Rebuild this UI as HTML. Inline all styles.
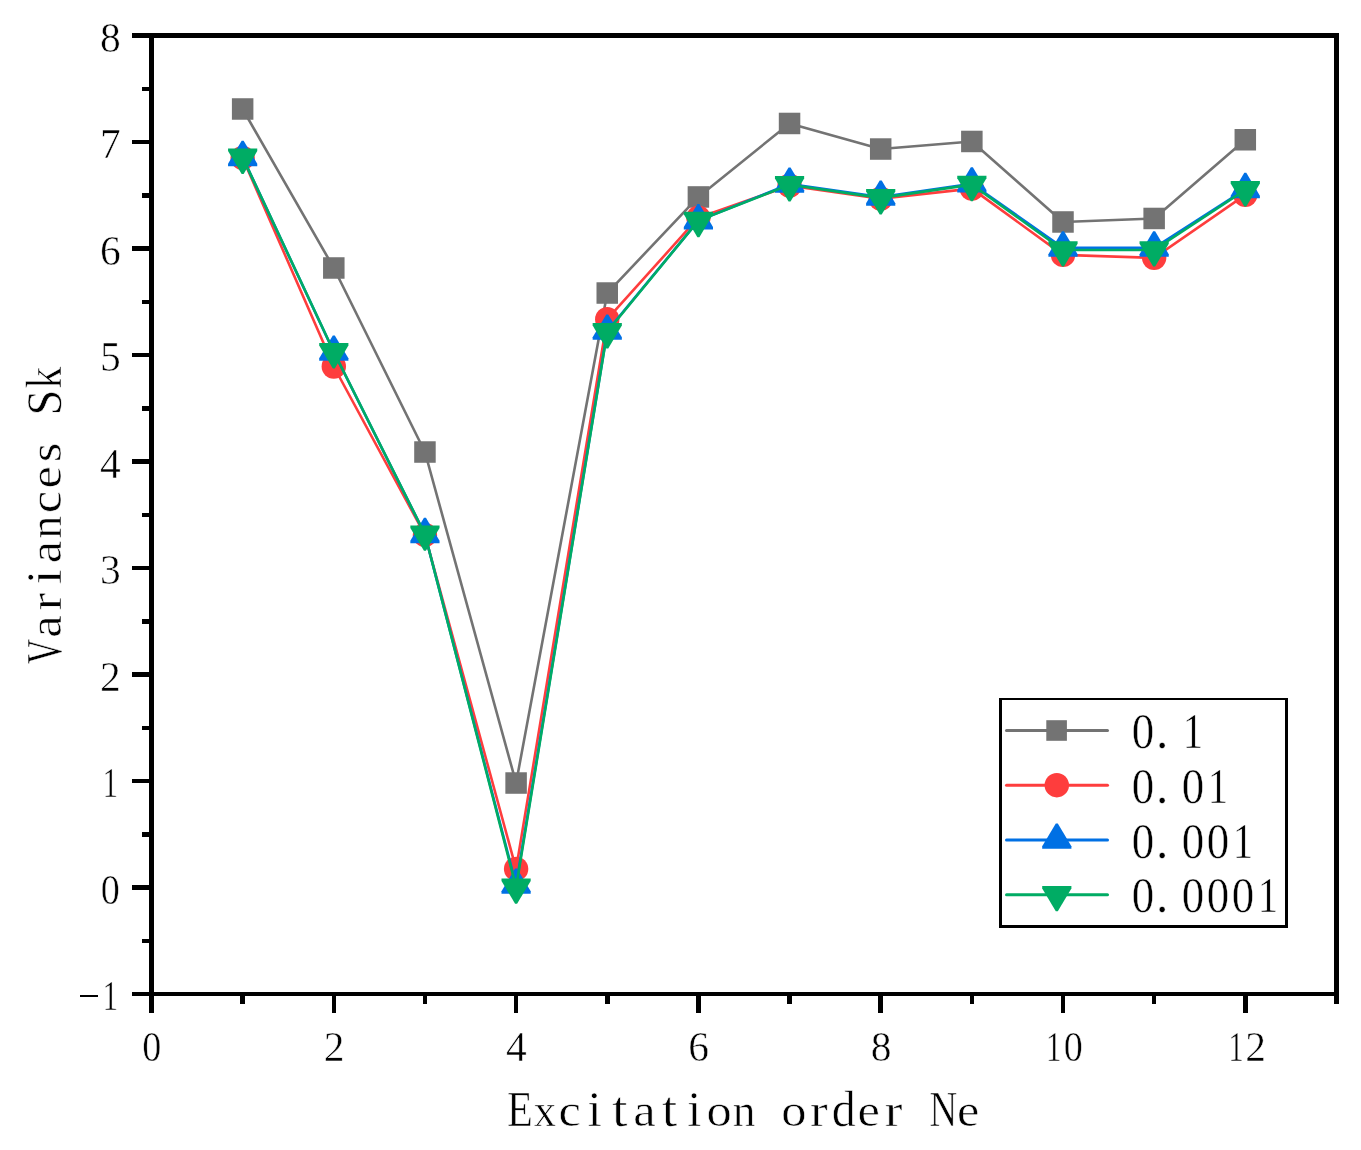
<!DOCTYPE html><html><head><meta charset="utf-8"><style>html,body{margin:0;padding:0;background:#fff;overflow:hidden;}svg{display:block;will-change:transform;}text{font-family:"Liberation Serif",serif;fill:#000;}.ttl text{stroke:#fff;stroke-width:0.6px;}.tl text{stroke:#fff;stroke-width:0.5px;}</style></head><body>
<svg width="1361" height="1150" viewBox="0 0 1361 1150">
<rect width="1361" height="1150" fill="#fff"/>
<polyline points="242.65,108.99 333.80,267.99 424.95,452.02 516.10,783.02 607.25,293.02 698.40,196.95 789.55,123.47 880.70,149.03 971.85,141.47 1063.00,221.98 1154.15,218.47 1245.30,139.76" fill="none" stroke="#737373" stroke-width="2.6" stroke-linejoin="round"/>
<rect x="231.90" y="98.24" width="21.5" height="21.5" fill="#737373"/>
<rect x="323.05" y="257.24" width="21.5" height="21.5" fill="#737373"/>
<rect x="414.20" y="441.27" width="21.5" height="21.5" fill="#737373"/>
<rect x="505.35" y="772.27" width="21.5" height="21.5" fill="#737373"/>
<rect x="596.50" y="282.27" width="21.5" height="21.5" fill="#737373"/>
<rect x="687.65" y="186.20" width="21.5" height="21.5" fill="#737373"/>
<rect x="778.80" y="112.72" width="21.5" height="21.5" fill="#737373"/>
<rect x="869.95" y="138.28" width="21.5" height="21.5" fill="#737373"/>
<rect x="961.10" y="130.72" width="21.5" height="21.5" fill="#737373"/>
<rect x="1052.25" y="211.23" width="21.5" height="21.5" fill="#737373"/>
<rect x="1143.40" y="207.72" width="21.5" height="21.5" fill="#737373"/>
<rect x="1234.55" y="129.01" width="21.5" height="21.5" fill="#737373"/>
<polyline points="242.65,157.98 333.80,366.50 424.95,534.98 516.10,868.97 607.25,319.22 698.40,217.72 789.55,185.66 880.70,198.66 971.85,188.65 1063.00,254.89 1154.15,257.87 1245.30,194.82" fill="none" stroke="#FE3D3D" stroke-width="2.6" stroke-linejoin="round"/>
<circle cx="242.65" cy="157.98" r="12.2" fill="#FE3D3D"/>
<circle cx="333.80" cy="366.50" r="12.2" fill="#FE3D3D"/>
<circle cx="424.95" cy="534.98" r="12.2" fill="#FE3D3D"/>
<circle cx="516.10" cy="868.97" r="12.2" fill="#FE3D3D"/>
<circle cx="607.25" cy="319.22" r="12.2" fill="#FE3D3D"/>
<circle cx="698.40" cy="217.72" r="12.2" fill="#FE3D3D"/>
<circle cx="789.55" cy="185.66" r="12.2" fill="#FE3D3D"/>
<circle cx="880.70" cy="198.66" r="12.2" fill="#FE3D3D"/>
<circle cx="971.85" cy="188.65" r="12.2" fill="#FE3D3D"/>
<circle cx="1063.00" cy="254.89" r="12.2" fill="#FE3D3D"/>
<circle cx="1154.15" cy="257.87" r="12.2" fill="#FE3D3D"/>
<circle cx="1245.30" cy="194.82" r="12.2" fill="#FE3D3D"/>
<polyline points="242.65,157.34 333.80,352.02 424.95,534.45 516.10,885.05 607.25,331.04 698.40,220.60 789.55,184.07 880.70,197.06 971.85,183.75 1063.00,247.86 1154.15,247.86 1245.30,189.39" fill="none" stroke="#0070E4" stroke-width="2.6" stroke-linejoin="round"/>
<polygon points="241.65,140.74 243.65,140.74 257.25,163.64 257.25,166.14 228.05,166.14 228.05,163.64" fill="#0070E4"/>
<polygon points="332.80,335.42 334.80,335.42 348.40,358.32 348.40,360.82 319.20,360.82 319.20,358.32" fill="#0070E4"/>
<polygon points="423.95,517.85 425.95,517.85 439.55,540.75 439.55,543.25 410.35,543.25 410.35,540.75" fill="#0070E4"/>
<polygon points="515.10,868.45 517.10,868.45 530.70,891.35 530.70,893.85 501.50,893.85 501.50,891.35" fill="#0070E4"/>
<polygon points="606.25,314.44 608.25,314.44 621.85,337.34 621.85,339.84 592.65,339.84 592.65,337.34" fill="#0070E4"/>
<polygon points="697.40,204.00 699.40,204.00 713.00,226.90 713.00,229.40 683.80,229.40 683.80,226.90" fill="#0070E4"/>
<polygon points="788.55,167.47 790.55,167.47 804.15,190.37 804.15,192.87 774.95,192.87 774.95,190.37" fill="#0070E4"/>
<polygon points="879.70,180.46 881.70,180.46 895.30,203.36 895.30,205.86 866.10,205.86 866.10,203.36" fill="#0070E4"/>
<polygon points="970.85,167.15 972.85,167.15 986.45,190.05 986.45,192.55 957.25,192.55 957.25,190.05" fill="#0070E4"/>
<polygon points="1062.00,231.26 1064.00,231.26 1077.60,254.16 1077.60,256.66 1048.40,256.66 1048.40,254.16" fill="#0070E4"/>
<polygon points="1153.15,231.26 1155.15,231.26 1168.75,254.16 1168.75,256.66 1139.55,256.66 1139.55,254.16" fill="#0070E4"/>
<polygon points="1244.30,172.79 1246.30,172.79 1259.90,195.69 1259.90,198.19 1230.70,198.19 1230.70,195.69" fill="#0070E4"/>
<polyline points="242.65,157.34 333.80,351.80 424.95,534.24 516.10,887.18 607.25,331.78 698.40,220.60 789.55,184.81 880.70,197.91 971.85,184.60 1063.00,249.99 1154.15,249.99 1245.30,189.82" fill="none" stroke="#00AC64" stroke-width="2.6" stroke-linejoin="round"/>
<polygon points="241.65,173.94 243.65,173.94 257.25,151.04 257.25,148.54 228.05,148.54 228.05,151.04" fill="#00AC64"/>
<polygon points="332.80,368.40 334.80,368.40 348.40,345.50 348.40,343.00 319.20,343.00 319.20,345.50" fill="#00AC64"/>
<polygon points="423.95,550.84 425.95,550.84 439.55,527.94 439.55,525.44 410.35,525.44 410.35,527.94" fill="#00AC64"/>
<polygon points="515.10,903.78 517.10,903.78 530.70,880.88 530.70,878.38 501.50,878.38 501.50,880.88" fill="#00AC64"/>
<polygon points="606.25,348.38 608.25,348.38 621.85,325.48 621.85,322.98 592.65,322.98 592.65,325.48" fill="#00AC64"/>
<polygon points="697.40,237.20 699.40,237.20 713.00,214.30 713.00,211.80 683.80,211.80 683.80,214.30" fill="#00AC64"/>
<polygon points="788.55,201.41 790.55,201.41 804.15,178.51 804.15,176.01 774.95,176.01 774.95,178.51" fill="#00AC64"/>
<polygon points="879.70,214.51 881.70,214.51 895.30,191.61 895.30,189.11 866.10,189.11 866.10,191.61" fill="#00AC64"/>
<polygon points="970.85,201.20 972.85,201.20 986.45,178.30 986.45,175.80 957.25,175.80 957.25,178.30" fill="#00AC64"/>
<polygon points="1062.00,266.59 1064.00,266.59 1077.60,243.69 1077.60,241.19 1048.40,241.19 1048.40,243.69" fill="#00AC64"/>
<polygon points="1153.15,266.59 1155.15,266.59 1168.75,243.69 1168.75,241.19 1139.55,241.19 1139.55,243.69" fill="#00AC64"/>
<polygon points="1244.30,206.42 1246.30,206.42 1259.90,183.52 1259.90,181.02 1230.70,181.02 1230.70,183.52" fill="#00AC64"/>
<g fill="#000" shape-rendering="crispEdges">
<rect x="149" y="33" width="1190" height="5"/>
<rect x="149" y="992" width="1190" height="4"/>
<rect x="149" y="33" width="5" height="963"/>
<rect x="1334" y="33" width="5" height="963"/>
<rect x="132" y="991.75" width="18" height="4.5"/>
<rect x="142" y="938.50" width="8" height="4.5"/>
<rect x="132" y="885.25" width="18" height="4.5"/>
<rect x="142" y="832.00" width="8" height="4.5"/>
<rect x="132" y="778.75" width="18" height="4.5"/>
<rect x="142" y="725.50" width="8" height="4.5"/>
<rect x="132" y="672.25" width="18" height="4.5"/>
<rect x="142" y="619.00" width="8" height="4.5"/>
<rect x="132" y="565.75" width="18" height="4.5"/>
<rect x="142" y="512.50" width="8" height="4.5"/>
<rect x="132" y="459.25" width="18" height="4.5"/>
<rect x="142" y="406.00" width="8" height="4.5"/>
<rect x="132" y="352.75" width="18" height="4.5"/>
<rect x="142" y="299.50" width="8" height="4.5"/>
<rect x="132" y="246.25" width="18" height="4.5"/>
<rect x="142" y="193.00" width="8" height="4.5"/>
<rect x="132" y="139.75" width="18" height="4.5"/>
<rect x="142" y="86.50" width="8" height="4.5"/>
<rect x="132" y="33.25" width="18" height="4.5"/>
<rect x="149.25" y="995" width="4.5" height="18"/>
<rect x="240.40" y="995" width="4.5" height="9"/>
<rect x="331.55" y="995" width="4.5" height="18"/>
<rect x="422.70" y="995" width="4.5" height="9"/>
<rect x="513.85" y="995" width="4.5" height="18"/>
<rect x="605.00" y="995" width="4.5" height="9"/>
<rect x="696.15" y="995" width="4.5" height="18"/>
<rect x="787.30" y="995" width="4.5" height="9"/>
<rect x="878.45" y="995" width="4.5" height="18"/>
<rect x="969.60" y="995" width="4.5" height="9"/>
<rect x="1060.75" y="995" width="4.5" height="18"/>
<rect x="1151.90" y="995" width="4.5" height="9"/>
<rect x="1243.05" y="995" width="4.5" height="18"/>
<rect x="1334.20" y="995" width="4.5" height="9"/>
<rect x="80" y="995" width="18" height="2"/>
</g>
<g class="tl">
<text transform="translate(110.30,1010.00) scale(0.75,1)" font-size="41.5" text-anchor="middle">1</text>
<text transform="translate(110.30,903.50) scale(0.92,1)" font-size="41.5" text-anchor="middle">0</text>
<text transform="translate(110.30,797.00) scale(0.75,1)" font-size="41.5" text-anchor="middle">1</text>
<text x="110.30" y="690.50" font-size="41.5" text-anchor="middle">2</text>
<text x="110.30" y="584.00" font-size="41.5" text-anchor="middle">3</text>
<text x="110.30" y="477.50" font-size="41.5" text-anchor="middle">4</text>
<text x="110.30" y="371.00" font-size="41.5" text-anchor="middle">5</text>
<text x="110.30" y="264.50" font-size="41.5" text-anchor="middle">6</text>
<text x="110.30" y="158.00" font-size="41.5" text-anchor="middle">7</text>
<text x="110.30" y="51.50" font-size="41.5" text-anchor="middle">8</text>
<text transform="translate(151.80,1060.50) scale(0.92,1)" font-size="41.5" text-anchor="middle">0</text>
<text x="334.10" y="1060.50" font-size="41.5" text-anchor="middle">2</text>
<text x="516.40" y="1060.50" font-size="41.5" text-anchor="middle">4</text>
<text x="698.70" y="1060.50" font-size="41.5" text-anchor="middle">6</text>
<text x="881.00" y="1060.50" font-size="41.5" text-anchor="middle">8</text>
<text transform="translate(1053.70,1060.50) scale(0.75,1)" font-size="41.5" text-anchor="middle">1</text>
<text transform="translate(1073.30,1060.50) scale(0.92,1)" font-size="41.5" text-anchor="middle">0</text>
<text transform="translate(1236.00,1060.50) scale(0.75,1)" font-size="41.5" text-anchor="middle">1</text>
<text x="1255.60" y="1060.50" font-size="41.5" text-anchor="middle">2</text>
</g>
<g class="ttl"><text transform="translate(520.00,1126) scale(0.84,1.0)" font-size="50.5" text-anchor="middle">E</text><text transform="translate(544.90,1126) scale(0.88,0.94)" font-size="50.5" text-anchor="middle">x</text><text transform="translate(569.80,1126) scale(1.0,0.94)" font-size="50.5" text-anchor="middle">c</text><text transform="translate(594.70,1126) scale(1.05,1.0)" font-size="50.5" text-anchor="middle">i</text><text transform="translate(619.60,1126) scale(1.1,1.0)" font-size="50.5" text-anchor="middle">t</text><text transform="translate(644.50,1126) scale(1.0,0.94)" font-size="50.5" text-anchor="middle">a</text><text transform="translate(669.40,1126) scale(1.1,1.0)" font-size="50.5" text-anchor="middle">t</text><text transform="translate(694.30,1126) scale(1.05,1.0)" font-size="50.5" text-anchor="middle">i</text><text transform="translate(719.20,1126) scale(1.0,0.94)" font-size="50.5" text-anchor="middle">o</text><text transform="translate(744.10,1126) scale(0.9,0.94)" font-size="50.5" text-anchor="middle">n</text><text transform="translate(793.90,1126) scale(1.0,0.94)" font-size="50.5" text-anchor="middle">o</text><text transform="translate(818.80,1126) scale(1.05,0.94)" font-size="50.5" text-anchor="middle">r</text><text transform="translate(843.70,1126) scale(0.95,1.0)" font-size="50.5" text-anchor="middle">d</text><text transform="translate(868.60,1126) scale(1.0,0.94)" font-size="50.5" text-anchor="middle">e</text><text transform="translate(893.50,1126) scale(1.05,0.94)" font-size="50.5" text-anchor="middle">r</text><text transform="translate(943.30,1126) scale(0.76,1.0)" font-size="50.5" text-anchor="middle">N</text><text transform="translate(968.20,1126) scale(1.0,0.94)" font-size="50.5" text-anchor="middle">e</text></g>
<g transform="translate(61,664.00) rotate(-90)">
<g class="ttl"><text transform="translate(12.45,0) scale(0.68,1.0)" font-size="50.5" text-anchor="middle">V</text><text transform="translate(37.35,0) scale(1.0,0.94)" font-size="50.5" text-anchor="middle">a</text><text transform="translate(62.25,0) scale(1.05,0.94)" font-size="50.5" text-anchor="middle">r</text><text transform="translate(87.15,0) scale(1.05,1.0)" font-size="50.5" text-anchor="middle">i</text><text transform="translate(112.05,0) scale(1.0,0.94)" font-size="50.5" text-anchor="middle">a</text><text transform="translate(136.95,0) scale(0.9,0.94)" font-size="50.5" text-anchor="middle">n</text><text transform="translate(161.85,0) scale(1.0,0.94)" font-size="50.5" text-anchor="middle">c</text><text transform="translate(186.75,0) scale(1.0,0.94)" font-size="50.5" text-anchor="middle">e</text><text transform="translate(211.65,0) scale(1.0,0.94)" font-size="50.5" text-anchor="middle">s</text><text transform="translate(261.45,0) scale(0.92,1.0)" font-size="50.5" text-anchor="middle">S</text><text transform="translate(286.35,0) scale(0.86,1.0)" font-size="50.5" text-anchor="middle">k</text></g>
</g>
<g fill="#000" shape-rendering="crispEdges">
<rect x="999" y="698" width="289" height="2"/>
<rect x="999" y="925" width="289" height="3"/>
<rect x="999" y="698" width="3" height="230"/>
<rect x="1285" y="698" width="3" height="230"/>
</g>
<line x1="1006.5" y1="730.5" x2="1107.5" y2="730.5" stroke="#737373" stroke-width="3" stroke-linecap="round"/>
<rect x="1046.30" y="720.20" width="20.6" height="20.6" fill="#737373"/>
<g class="tl"><text transform="translate(1143.00,748.03) scale(0.88,1)" font-size="51" text-anchor="middle">0</text></g>
<g class="tl"><text x="1162.00" y="748.03" font-size="51" text-anchor="middle">.</text></g>
<g class="tl"><text transform="translate(1193.00,748.03) scale(0.78,1)" font-size="51" text-anchor="middle">1</text></g>
<line x1="1006.5" y1="785.2" x2="1107.5" y2="785.2" stroke="#FE3D3D" stroke-width="3" stroke-linecap="round"/>
<circle cx="1056.80" cy="785.20" r="12.2" fill="#FE3D3D"/>
<g class="tl"><text transform="translate(1143.00,802.73) scale(0.88,1)" font-size="51" text-anchor="middle">0</text></g>
<g class="tl"><text x="1162.00" y="802.73" font-size="51" text-anchor="middle">.</text></g>
<g class="tl"><text transform="translate(1193.00,802.73) scale(0.88,1)" font-size="51" text-anchor="middle">0</text></g>
<g class="tl"><text transform="translate(1218.00,802.73) scale(0.78,1)" font-size="51" text-anchor="middle">1</text></g>
<line x1="1006.5" y1="840.0" x2="1107.5" y2="840.0" stroke="#0070E4" stroke-width="3" stroke-linecap="round"/>
<polygon points="1055.80,823.40 1057.80,823.40 1071.40,846.30 1071.40,848.80 1042.20,848.80 1042.20,846.30" fill="#0070E4"/>
<g class="tl"><text transform="translate(1143.00,857.53) scale(0.88,1)" font-size="51" text-anchor="middle">0</text></g>
<g class="tl"><text x="1162.00" y="857.53" font-size="51" text-anchor="middle">.</text></g>
<g class="tl"><text transform="translate(1193.00,857.53) scale(0.88,1)" font-size="51" text-anchor="middle">0</text></g>
<g class="tl"><text transform="translate(1218.00,857.53) scale(0.88,1)" font-size="51" text-anchor="middle">0</text></g>
<g class="tl"><text transform="translate(1243.00,857.53) scale(0.78,1)" font-size="51" text-anchor="middle">1</text></g>
<line x1="1006.5" y1="894.7" x2="1107.5" y2="894.7" stroke="#00AC64" stroke-width="3" stroke-linecap="round"/>
<polygon points="1055.80,911.30 1057.80,911.30 1071.40,888.40 1071.40,885.90 1042.20,885.90 1042.20,888.40" fill="#00AC64"/>
<g class="tl"><text transform="translate(1143.00,912.23) scale(0.88,1)" font-size="51" text-anchor="middle">0</text></g>
<g class="tl"><text x="1162.00" y="912.23" font-size="51" text-anchor="middle">.</text></g>
<g class="tl"><text transform="translate(1193.00,912.23) scale(0.88,1)" font-size="51" text-anchor="middle">0</text></g>
<g class="tl"><text transform="translate(1218.00,912.23) scale(0.88,1)" font-size="51" text-anchor="middle">0</text></g>
<g class="tl"><text transform="translate(1243.00,912.23) scale(0.88,1)" font-size="51" text-anchor="middle">0</text></g>
<g class="tl"><text transform="translate(1268.00,912.23) scale(0.78,1)" font-size="51" text-anchor="middle">1</text></g>
</svg></body></html>
